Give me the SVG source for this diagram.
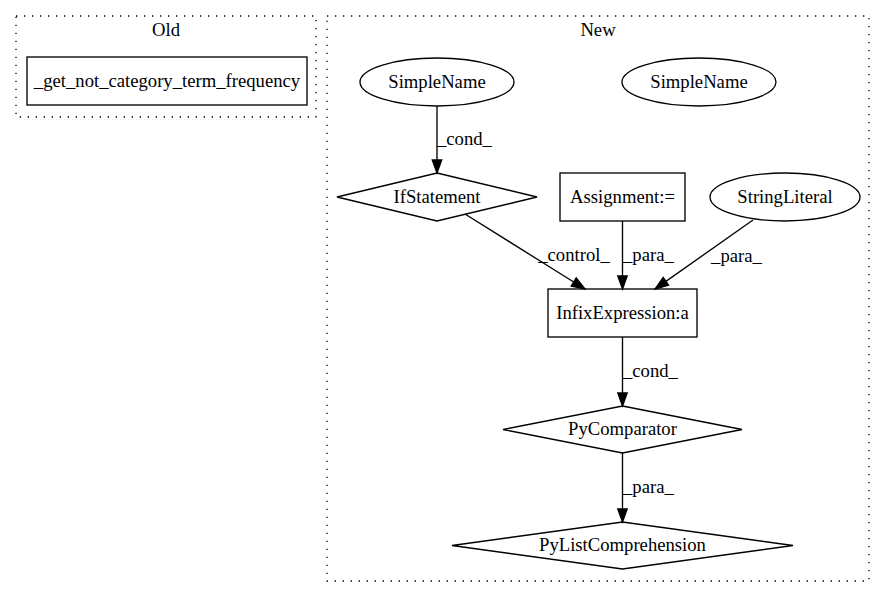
<svg xmlns="http://www.w3.org/2000/svg" width="885" height="596" viewBox="0 0 885 596" font-family="'Liberation Serif', 'Times New Roman', Times, 'DejaVu Serif', serif">
<style>
  text { font-family: "Liberation Serif", "Times New Roman", Times, "DejaVu Serif", serif; font-size: 18.67px; fill: #000; text-anchor: middle; }
  .cluster { fill: none; stroke: #000; stroke-width: 1.33; stroke-dasharray: 1.33 6.67; }
  .shape { fill: #fff; stroke: #000; stroke-width: 1.33; }
  .edge { fill: none; stroke: #000; stroke-width: 1.33; }
  .head { fill: #000; stroke: #000; stroke-width: 1.33; }
  .elabel { text-anchor: start; }
</style>
<rect x="0" y="0" width="885" height="596" fill="#fff"/>
<g id="cluster_old">
  <rect class="cluster" x="16" y="16" width="300" height="101"/>
  <text x="166" y="36">Old</text>
</g>
<g id="cluster_new">
  <rect class="cluster" x="327" y="16" width="542" height="565"/>
  <text x="598" y="36">New</text>
</g>
<g id="node_old_method">
  <rect class="shape" x="27" y="57" width="280" height="48"/>
  <text x="167" y="87">_get_not_category_term_frequency</text>
</g>
<g id="node_simplename1">
  <ellipse class="shape" cx="437" cy="82" rx="77" ry="24"/>
  <text x="437" y="87.5">SimpleName</text>
</g>
<g id="node_simplename2">
  <ellipse class="shape" cx="699" cy="82" rx="77" ry="24"/>
  <text x="699" y="87.5">SimpleName</text>
</g>
<g id="node_ifstatement">
  <polygon class="shape" points="437,173 537,197 437,221 337,197"/>
  <text x="437" y="202.5">IfStatement</text>
</g>
<g id="node_assignment">
  <rect class="shape" x="560" y="173" width="125" height="48"/>
  <text x="622.5" y="202.5">Assignment:=</text>
</g>
<g id="node_stringliteral">
  <ellipse class="shape" cx="785" cy="197" rx="75" ry="24"/>
  <text x="785" y="202.5">StringLiteral</text>
</g>
<g id="node_infix">
  <rect class="shape" x="548" y="289" width="149" height="48"/>
  <text x="622.5" y="318.5">InfixExpression:a</text>
</g>
<g id="node_pycomparator">
  <polygon class="shape" points="622.5,406 742,429.5 622.5,453 503,429.5"/>
  <text x="622.5" y="435">PyComparator</text>
</g>
<g id="node_pylistcomp">
  <polygon class="shape" points="622.5,522 793,545.5 622.5,569 452,545.5"/>
  <text x="622.5" y="551">PyListComprehension</text>
</g>
<g id="connectors">
  <path class="edge" d="M437,106 L437,160"/>
  <polygon class="head" points="432.3,160 437,173 441.7,160"/>
  <text class="elabel" x="437" y="145">_cond_</text>

  <path class="edge" d="M465,214 L573.7,282"/>
  <polygon class="head" points="571.2,286 585,289 576.2,278"/>
  <text x="574" y="261">_control_</text>

  <path class="edge" d="M622.5,221 L622.5,276"/>
  <polygon class="head" points="617.8,276 622.5,289 627.2,276"/>
  <text class="elabel" x="623" y="261">_para_</text>

  <path class="edge" d="M753,220 L665.9,281.4"/>
  <polygon class="head" points="668.6,285.2 655,289 663.2,277.5"/>
  <text x="736.5" y="262">_para_</text>

  <path class="edge" d="M622.5,337 L622.5,393"/>
  <polygon class="head" points="617.8,393 622.5,406 627.2,393"/>
  <text class="elabel" x="623" y="377">_cond_</text>

  <path class="edge" d="M622.5,453 L622.5,509"/>
  <polygon class="head" points="617.8,509 622.5,522 627.2,509"/>
  <text class="elabel" x="623" y="493">_para_</text>
</g>
</svg>
